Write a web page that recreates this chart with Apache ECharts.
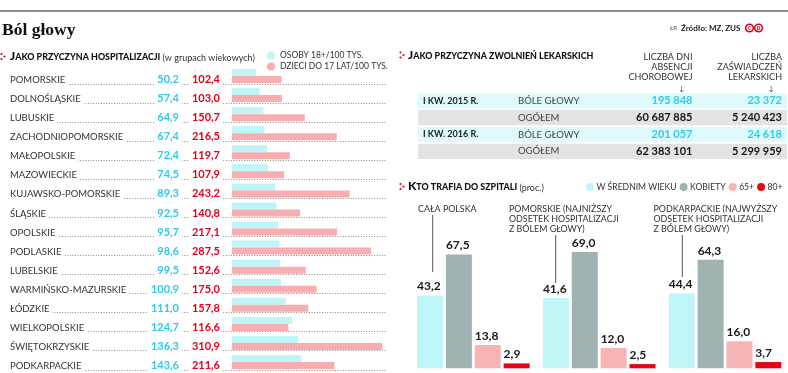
<!DOCTYPE html>
<html><head><meta charset="utf-8">
<script src="https://cdn.jsdelivr.net/npm/echarts@6/dist/echarts.min.js"></script>
<style>html,body{margin:0;padding:0;background:#fff}#c{width:788px;height:373px}</style>
</head><body><div id="c"></div>
<script>
// ---------- data ----------
const regions = ['POMORSKIE','DOLNOŚLĄSKIE','LUBUSKIE','ZACHODNIOPOMORSKIE','MAŁOPOLSKIE','MAZOWIECKIE','KUJAWSKO-POMORSKIE','ŚLĄSKIE','OPOLSKIE','PODLASKIE','LUBELSKIE','WARMIŃSKO-MAZURSKIE','ŁÓDZKIE','WIELKOPOLSKIE','ŚWIĘTOKRZYSKIE','PODKARPACKIE'];
const adults = [50.2,57.4,64.9,67.4,72.4,74.5,89.3,92.5,95.7,98.6,99.5,100.9,111.0,124.7,136.3,143.6];
const children = [102.4,103.0,150.7,216.5,119.7,107.9,243.2,140.8,217.1,287.5,152.6,175.0,157.8,116.6,310.9,211.6];
const leftLegend = ['OSOBY 18+/100 TYS.','DZIECI DO 17 LAT/100 TYS.'];

const colHeaders = ['LICZBA DNI\nABSENCJI\nCHOROBOWEJ','LICZBA\nZAŚWIADCZEŃ\nLEKARSKICH'];
const tablePeriods = ['I KW. 2015 R.','','I KW. 2016 R.',''];
const tableKinds = ['BÓLE GŁOWY','OGÓŁEM','BÓLE GŁOWY','OGÓŁEM'];
const absenceDays = ['195 848','60 687 885','201 057','62 383 101'];
const certificates = ['23 372','5 240 423','24 618','5 299 959'];

const groups = ['CAŁA POLSKA','POMORSKIE','PODKARPACKIE'];
const groupNotes = ['CAŁA POLSKA','POMORSKIE (NAJNIŻSZY\nODSETEK HOSPITALIZACJI\nZ BÓLEM GŁOWY)','PODKARPACKIE (NAJWYŻSZY\nODSETEK HOSPITALIZACJI\nZ BÓLEM GŁOWY)'];
const hospLegend = ['W ŚREDNIM WIEKU','KOBIETY','65+','80+'];
const middleAged = [43.2,41.6,44.4];
const women = [67.5,69.0,64.3];
const age65 = [13.8,12.0,16.0];
const age80 = [2.9,2.5,3.7];

// ---------- styles ----------
const FF = 'Lato, "Open Sans", sans-serif';
const C_CYAN_BAR = '#c0f5f7', C_PINK_BAR = '#f8aeb1';
const C_CYAN_TXT = '#2ccaee', C_RED_TXT = '#e3001b';
const C_GRAY_BAR = '#9fb3b2', C_PINK2 = '#f7b4b4', C_RED_BAR = '#e30613';
const fmt = v => v.toFixed(1).replace('.', ',');

const chart = echarts.init(document.getElementById('c'), null, {renderer:'canvas'});

function redDots(x, y) {
  return [0,1,2].map(k => ({type:'circle', shape:{cx: x + (k===2?3:0), cy: y + (k===0?-2.5:(k===1?2.5:0)), r:1.1}, style:{fill:'#e3001b'}}));
}
function capsHeader(x, y, first, rest, extra) {
  return {type:'text', x:x, y:y, style:{
    text: '{b|' + first + '}{s|' + rest + '}' + (extra ? '{n| ' + extra + '}' : ''),
    verticalAlign:'middle', fill:'#111', fontFamily: FF,
    rich:{
      b:{fontSize:12, fontWeight:900, fontFamily:FF, fill:'#111', verticalAlign:'bottom'},
      s:{fontSize:8.9, fontWeight:900, fontFamily:FF, fill:'#111', verticalAlign:'bottom', padding:[0,0,0.5,0]},
      n:{fontSize:9, fontWeight:'normal', fontFamily:FF, fill:'#333', verticalAlign:'bottom'}
    }}};
}

const graphics = [];
// top rule and title
graphics.push({type:'line', shape:{x1:0, y1:11, x2:788, y2:11}, style:{stroke:'#666', lineWidth:1.3}});
graphics.push({type:'text', x:2, y:30, style:{text:'Ból głowy', fontFamily:'"Liberation Serif", serif', fontWeight:'bold', fontSize:17.5, fill:'#111', verticalAlign:'middle'}});
graphics.push({type:'text', x:670, y:28.5, style:{text:'ŁR', fontFamily:FF, fontSize:6, fill:'#555', verticalAlign:'middle'}});
graphics.push({type:'text', x:681, y:28, style:{text:'Źródło: MZ, ZUS', fontFamily:FF, fontSize:8, fontWeight:'bold', fill:'#222', verticalAlign:'middle'}});
[749.5, 758.5].forEach((cx, i) => {
  graphics.push({type:'circle', shape:{cx:cx, cy:28, r:4.6}, style:{fill:'#e3001b'}});
  graphics.push({type:'circle', shape:{cx:cx, cy:28, r:3}, style:{fill:'#fff'}});
  graphics.push({type:'text', x:cx, y:28.3, style:{text: i===0?'c':'p', fontFamily:FF, fontWeight:'bold', fontSize:6.5, fill:'#e3001b', align:'center', verticalAlign:'middle'}});
});
// section headers
graphics.push(...redDots(1.5, 56.5));
graphics.push(capsHeader(10, 56.5, 'J', 'AKO PRZYCZYNA HOSPITALIZACJI', '(w grupach wiekowych)'));
graphics.push(...redDots(400.5, 55));
graphics.push(capsHeader(408, 55, 'J', 'AKO PRZYCZYNA ZWOLNIEŃ LEKARSKICH'));
graphics.push(...redDots(400.5, 186.5));
graphics.push(capsHeader(408, 186.5, 'K', 'TO TRAFIA DO SZPITALI', '(proc.)'));

// table column headers
const colRight = [692.5, 782];
colHeaders.forEach((h, i) => {
  graphics.push({type:'text', x:colRight[i], y:51.5, style:{text:h, fontFamily:FF, fontSize:9, lineHeight:10.2, fill:'#333', align:'right', verticalAlign:'top'}});
  graphics.push({type:'text', x:colRight[i]-11, y:88.5, style:{text:'↓', fontFamily:FF, fontSize:7, fill:'#444', align:'center', verticalAlign:'middle'}});
});
// table rows
tableKinds.forEach((k, i) => {
  const top = 93.3 + i * 16.8, cy = top + 7.6, head = (i % 2 === 0);
  graphics.push({type:'rect', shape:{x:418, y:top, width:369, height:15.2}, style:{fill: head ? '#dffafc' : '#e3e3e3'}});
  if (tablePeriods[i]) graphics.push({type:'text', x:423, y:cy, style:{text:tablePeriods[i], fontFamily:FF, fontWeight:'bold', fontSize:9, fill:'#222', verticalAlign:'middle'}});
  graphics.push({type:'text', x:518, y:cy, style:{text:k, fontFamily:FF, fontSize:9.5, fill:'#444', verticalAlign:'middle'}});
  const col = head ? C_CYAN_TXT : '#151515';
  graphics.push({type:'text', x:colRight[0], y:cy, style:{text:absenceDays[i], fontFamily:FF, fontWeight:'bold', fontSize:11, fill:col, align:'right', verticalAlign:'middle'}});
  graphics.push({type:'text', x:colRight[1], y:cy, style:{text:certificates[i], fontFamily:FF, fontWeight:'bold', fontSize:11, fill:col, align:'right', verticalAlign:'middle'}});
});
// group notes + guide lines (lower right chart)
const noteX = [418, 509, 653.5];
const guide = [[432.7, 215, 272], [555.7, 235, 283], [682.3, 235, 277]];
groupNotes.forEach((t, i) => {
  graphics.push({type:'text', x:noteX[i], y:204.5, style:{text:t, fontFamily:FF, fontSize:8.9, lineHeight:9.8, fill:'#333', verticalAlign:'top'}});
  graphics.push({type:'line', shape:{x1:guide[i][0], y1:guide[i][1], x2:guide[i][0], y2:guide[i][2]}, style:{stroke:'#555', lineWidth:1}});
});

const barLabel = {show:true, position:[0,-3], align:'left', verticalAlign:'bottom', formatter: p => fmt(p.value), fontFamily:FF, fontWeight:'bold', fontSize:12, color:'#1a1a1a'};

const option = {
  animation:false,
  backgroundColor:'#fff',
  textStyle:{fontFamily:FF},
  grid:[
    {left:232, top:66.47, width:154.7, height:305.1},
    {left:410.4, top:199.6, width:383.25, height:168.7}
  ],
  xAxis:[
    {gridIndex:0, type:'value', min:0, max:320, show:false},
    {gridIndex:1, type:'category', data:groups, show:false}
  ],
  yAxis:[
    {gridIndex:0, type:'category', data:regions, inverse:true, show:false},
    {gridIndex:1, type:'value', min:0, max:100, show:false}
  ],
  legend:[
    {data:leftLegend, orient:'vertical', left:267, top:51, itemWidth:8, itemHeight:8, itemGap:2, icon:'circle', padding:0,
      textStyle:{fontFamily:FF, fontSize:8.5, color:'#333'}},
    {data:hospLegend, orient:'horizontal', left:586, top:182.5, width:300, itemWidth:8, itemHeight:8, itemGap:3, icon:'circle', padding:0,
      textStyle:{fontFamily:FF, fontSize:8.6, color:'#333', padding:[0,0,0,-2.5]}}
  ],
  series:[
    {type:'custom', xAxisIndex:0, yAxisIndex:0, z:1, silent:true,
      data: regions.map((r, i) => [0, i]), encode:{x:0, y:1},
      renderItem:(params, api) => {
        const idx = api.value(1);
        const p = api.coord([0, idx]);
        const cs = params.coordSys;
        const y = Math.round(p[1] + 7.5) + 0.5;
        return {type:'group', children:[
          {type:'line', shape:{x1:10, y1:y, x2:cs.x + cs.width, y2:y}, style:{stroke:'#8a8a8a', lineWidth:1, lineDash:[1,1.6]}},
          {type:'text', x:10, y:p[1] + 4, style:{text:regions[idx], fontFamily:FF, fontSize:9.5, fill:'#333', verticalAlign:'middle',
            backgroundColor:'#fff', padding:[2,3,2,0]}}
        ]};
      }},
    {name:leftLegend[0], type:'bar', xAxisIndex:0, yAxisIndex:0, data:adults, barWidth:7, barGap:'0%', z:2,
      itemStyle:{color:C_CYAN_BAR},
      label:{show:true, position:[-50,'150%'], align:'right', verticalAlign:'middle', formatter:p => fmt(p.value),
        fontFamily:FF, fontWeight:'bold', fontSize:11, color:C_CYAN_TXT, backgroundColor:'#fff', padding:[2,3,2,3]}},
    {name:leftLegend[1], type:'bar', xAxisIndex:0, yAxisIndex:0, data:children, barWidth:7, barGap:'0%', z:2,
      itemStyle:{color:C_PINK_BAR},
      label:{show:true, position:[-9,'50%'], align:'right', verticalAlign:'middle', formatter:p => fmt(p.value),
        fontFamily:FF, fontWeight:'bold', fontSize:11, color:C_RED_TXT, backgroundColor:'#fff', padding:[2,3,2,3]}},
    {name:hospLegend[0], type:'bar', xAxisIndex:1, yAxisIndex:1, data:middleAged, barWidth:26, barGap:'11%', itemStyle:{color:C_CYAN_BAR}, label:barLabel},
    {name:hospLegend[1], type:'bar', xAxisIndex:1, yAxisIndex:1, data:women, barWidth:26, barGap:'11%', itemStyle:{color:C_GRAY_BAR}, label:barLabel},
    {name:hospLegend[2], type:'bar', xAxisIndex:1, yAxisIndex:1, data:age65, barWidth:26, barGap:'11%', itemStyle:{color:C_PINK2}, label:barLabel},
    {name:hospLegend[3], type:'bar', xAxisIndex:1, yAxisIndex:1, data:age80, barWidth:26, barGap:'11%', itemStyle:{color:C_RED_BAR}, label:barLabel}
  ],
  graphic: graphics
};
chart.setOption(option);
</script>
</body></html>
